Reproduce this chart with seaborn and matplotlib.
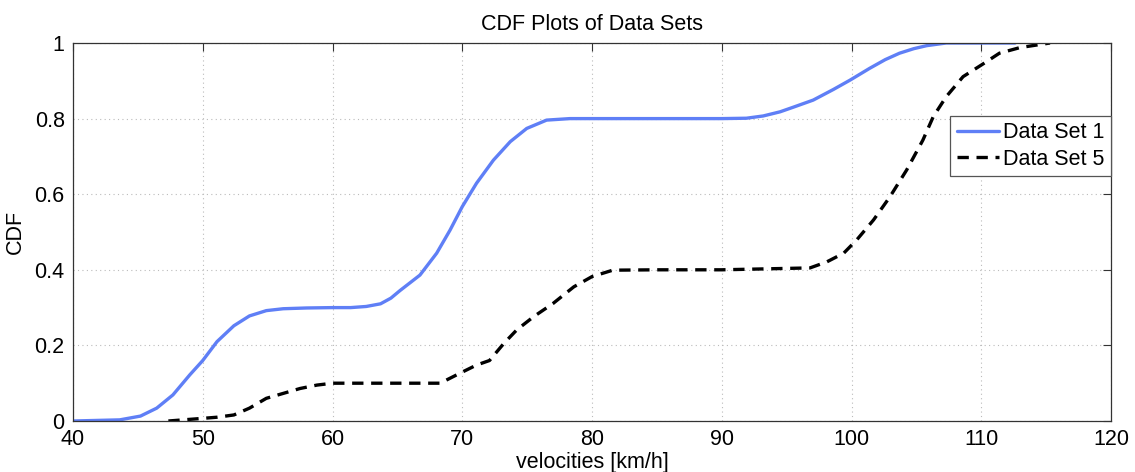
import matplotlib
matplotlib.use("Agg")
import matplotlib.pyplot as plt
import seaborn as sns
import pandas as pd

# Data Set 1
x1 = [40.0, 43.6, 45.2, 46.45, 47.7, 49.0, 50.0, 51.1, 52.4, 53.6, 54.9, 56.2, 58.0, 60.0, 61.4,
      62.6, 63.7, 64.5, 65.2, 66.74, 68.03, 69.06, 70.0, 71.1, 72.4, 73.7, 74.97, 76.5, 78.3,
      80.0, 85.0, 90.0, 91.9, 93.2, 94.5, 95.5, 97.05, 98.6, 99.9, 101.4, 102.6, 103.7, 104.8,
      105.8, 107.3, 112.6]
y1 = [0.0, 0.003, 0.013, 0.034, 0.069, 0.122, 0.16, 0.21, 0.252, 0.278, 0.292, 0.297, 0.299, 0.3,
      0.3, 0.303, 0.31, 0.325, 0.345, 0.386, 0.444, 0.505, 0.567, 0.629, 0.69, 0.739, 0.774, 0.796,
      0.8, 0.8, 0.8, 0.8, 0.801, 0.807, 0.818, 0.83, 0.849, 0.877, 0.902, 0.933, 0.956, 0.973,
      0.985, 0.993, 1.0, 1.0]

# Data Set 5
x5 = [47.35, 50.0, 51.1, 52.4, 53.6, 54.9, 56.2, 57.5, 58.8, 60.0, 65.0, 68.3, 69.8, 71.1, 72.1,
      73.2, 74.2, 75.5, 77.0, 78.6, 80.0, 81.6, 85.0, 90.0, 96.8, 98.1, 99.4, 100.4, 101.7,
      102.96, 104.25, 105.5, 106.3, 107.3, 108.6, 110.2, 111.4, 113.0, 115.3]
y5 = [0.0, 0.007, 0.01, 0.016, 0.034, 0.06, 0.073, 0.086, 0.095, 0.1, 0.1, 0.1, 0.126, 0.148, 0.16,
      0.205, 0.241, 0.276, 0.311, 0.355, 0.382, 0.399, 0.4, 0.4, 0.405, 0.421, 0.444, 0.479, 0.532,
      0.593, 0.664, 0.743, 0.805, 0.858, 0.911, 0.946, 0.973, 0.988, 1.0]

labels = ["Data Set 1", "Data Set 5"]
x_ticks = [40, 50, 60, 70, 80, 90, 100, 110, 120]
y_ticks = [0, 0.2, 0.4, 0.6, 0.8, 1]
y_ticklabels = ["0", "0.2", "0.4", "0.6", "0.8", "1"]

sns.set_style("white")
plt.rcParams['font.family'] = ['Liberation Sans', 'DejaVu Sans']
plt.rcParams['text.color'] = 'black'
plt.rcParams['axes.labelcolor'] = 'black'
plt.rcParams['xtick.color'] = 'black'
plt.rcParams['ytick.color'] = 'black'

df1 = pd.DataFrame({"v": x1, "cdf": y1})
df5 = pd.DataFrame({"v": x5, "cdf": y5})

fig = plt.figure(figsize=(11.35, 4.72), dpi=100)
ax = fig.add_axes([73 / 1135, 1 - 421 / 472, (1111 - 73) / 1135, (421 - 43) / 472])

sns.lineplot(data=df1, x="v", y="cdf", ax=ax, color="#5f7ff6", lw=2.4,
             sort=False, estimator=None, label=labels[0])
sns.lineplot(data=df5, x="v", y="cdf", ax=ax, color="black", lw=2.4,
             sort=False, estimator=None, label=labels[1], dashes=False)
ax.lines[1].set_linestyle((0, (3.4, 2.3)))

ax.set_xlim(40, 120)
ax.set_ylim(0, 1)
ax.set_xticks(x_ticks)
ax.set_yticks(y_ticks)
ax.set_yticklabels(y_ticklabels)
ax.tick_params(direction="in", length=6, width=0.8, color="#333333",
               top=True, right=True, labelsize=15.5, pad=6, labelcolor="black")
ax.grid(True, linestyle=(0, (1, 3)), color="#bbbbbb", linewidth=0.8)
for s in ax.spines.values():
    s.set_color("#333333")
    s.set_linewidth(0.9)

ax.set_xlabel("velocities [km/h]", fontsize=15.5, labelpad=1)
ax.set_ylabel("CDF", fontsize=15.5, labelpad=6)
ax.set_title("CDF Plots of Data Sets", fontsize=15.5, pad=9)

leg = ax.legend(loc="upper right", bbox_to_anchor=(1.0, (421 - 116) / 378),
                borderaxespad=0, fontsize=15.5, frameon=True, fancybox=False,
                framealpha=1, edgecolor="#555555", handlelength=1.95,
                handletextpad=0.2, borderpad=0.3, labelspacing=0.25)
leg.get_frame().set_linewidth(0.9)

fig.savefig("out.png", dpi=100)
